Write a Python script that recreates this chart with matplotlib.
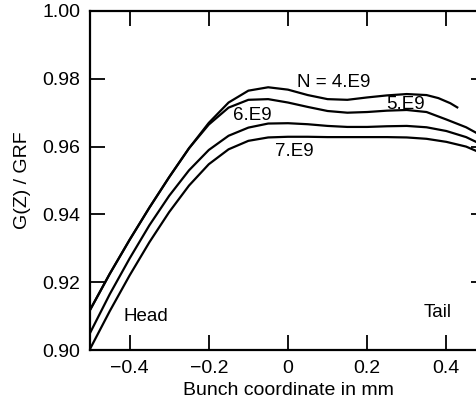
import matplotlib
matplotlib.use("Agg")
import matplotlib.pyplot as plt

plt.rcParams['font.family'] = ['Liberation Sans', 'DejaVu Sans']

# curves (bunch coordinate in mm, G(Z)/GRF)
x_4e9 = [-0.5, -0.45, -0.40, -0.35, -0.30, -0.25, -0.20, -0.15, -0.10, -0.05, 0.0,
         0.05, 0.10, 0.15, 0.20, 0.25, 0.30, 0.35, 0.38, 0.41, 0.43]
y_4e9 = [0.9118, 0.9225, 0.9325, 0.9420, 0.9510, 0.9595, 0.9670, 0.9730, 0.9765, 0.9775, 0.9768,
         0.9752, 0.9740, 0.9738, 0.9745, 0.9751, 0.9755, 0.9752, 0.9743, 0.9728, 0.9714]

x_5e9 = [-0.5, -0.45, -0.40, -0.35, -0.30, -0.25, -0.20, -0.15, -0.10, -0.05, 0.0,
         0.05, 0.10, 0.15, 0.20, 0.25, 0.30, 0.35, 0.40, 0.45, 0.50]
y_5e9 = [0.9118, 0.9225, 0.9325, 0.9420, 0.9510, 0.9595, 0.9665, 0.9715, 0.9738, 0.9740, 0.9730,
         0.9717, 0.9705, 0.9700, 0.9702, 0.9706, 0.9708, 0.9702, 0.9680, 0.9657, 0.9625]

x_6e9 = [-0.5, -0.45, -0.40, -0.35, -0.30, -0.25, -0.20, -0.15, -0.10, -0.05, 0.0,
         0.05, 0.10, 0.15, 0.20, 0.25, 0.30, 0.35, 0.40, 0.45, 0.50]
y_6e9 = [0.9050, 0.9165, 0.9270, 0.9368, 0.9455, 0.9530, 0.9590, 0.9632, 0.9656, 0.9668, 0.9669,
         0.9666, 0.9661, 0.9658, 0.9658, 0.9660, 0.9661, 0.9657, 0.9646, 0.9628, 0.9600]

x_7e9 = [-0.5, -0.45, -0.40, -0.35, -0.30, -0.25, -0.20, -0.15, -0.10, -0.05, 0.0,
         0.05, 0.10, 0.15, 0.20, 0.25, 0.30, 0.35, 0.40, 0.45, 0.50]
y_7e9 = [0.9003, 0.9115, 0.9220, 0.9318, 0.9407, 0.9485, 0.9548, 0.9592, 0.9617, 0.9627, 0.9629,
         0.9629, 0.9628, 0.9628, 0.9628, 0.9628, 0.9627, 0.9623, 0.9614, 0.9600, 0.9575]

curve_labels = ["N = 4.E9", "5.E9", "6.E9", "7.E9"]
label_x = [0.116, 0.298, -0.091, 0.015]
label_y = [0.9788, 0.9723, 0.9693, 0.9587]

xticks = [-0.4, -0.2, 0, 0.2, 0.4]
xticklabels = ["\u22120.4", "\u22120.2", "0", "0.2", "0.4"]
yticks = [0.90, 0.92, 0.94, 0.96, 0.98, 1.00]

fig = plt.figure(figsize=(4.77, 4.07), dpi=100)
ax = fig.add_axes([0.1887, 0.140, 0.830, 0.833])

for xs, ys in [(x_4e9, y_4e9), (x_5e9, y_5e9), (x_6e9, y_6e9), (x_7e9, y_7e9)]:
    ax.plot(xs, ys, color='black', lw=1.6, solid_capstyle='butt')

for t, tx, ty in zip(curve_labels, label_x, label_y):
    ax.text(tx, ty, t, ha='center', va='center', fontsize=13.5)

ax.text(-0.359, 0.910, "Head", ha='center', va='center', fontsize=13.5)
ax.text(0.379, 0.911, "Tail", ha='center', va='center', fontsize=13.5)

ax.set_xlim(-0.5, 0.5)
ax.set_ylim(0.90, 1.00)
ax.set_xticks(xticks)
ax.set_xticklabels(xticklabels)
ax.set_yticks(yticks)
ax.set_yticklabels(["%.2f" % v for v in yticks])
ax.tick_params(direction='in', length=11, width=1.3, top=True, right=True,
               labelsize=14, pad=7)
for s in ax.spines.values():
    s.set_linewidth(1.6)

ax.set_xlabel("Bunch coordinate in mm", fontsize=14, labelpad=4)
ax.set_ylabel("G(Z) / GRF", fontsize=14, labelpad=8)

fig.savefig("out.png", dpi=100)
